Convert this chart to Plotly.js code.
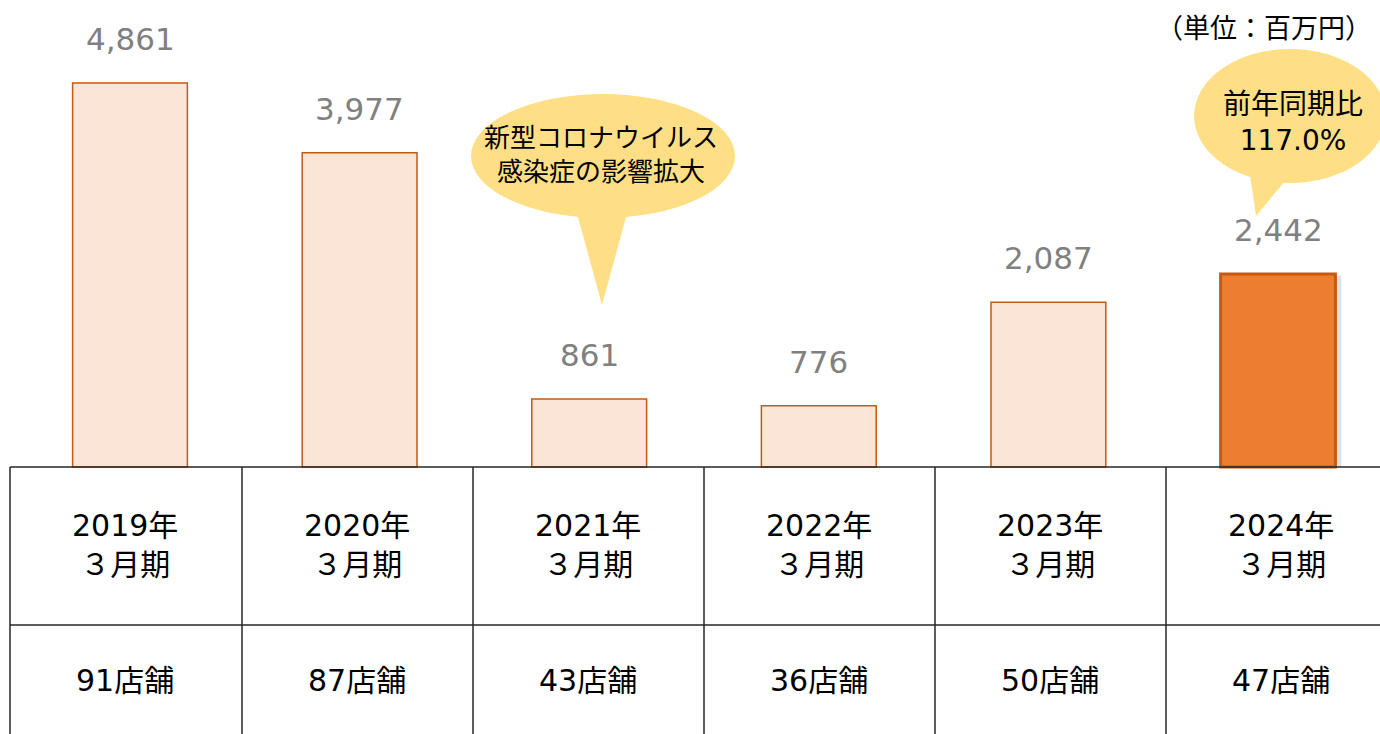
<!DOCTYPE html>
<html>
<head>
<meta charset="utf-8">
<script src="https://cdn.plot.ly/plotly-3.0.1.min.js"></script>
<style>html,body{margin:0;padding:0;background:#fff;}#chart{width:1380px;height:734px;}</style>
</head>
<body>
<div id="chart"></div>
<script>
// ---- data ----
const fiscalYears = ['2019', '2020', '2021', '2022', '2023', '2024'];
const sales = [4861, 3977, 861, 776, 2087, 2442];
const storeCounts = [91, 87, 43, 36, 50, 47];
const unitLabel = '（単位：百万円）';
const covidNote = '新型コロナウイルス<br>感染症の影響拡大';
const yoyNote = '前年同期比<br>117.0%';

// ---- layout helpers ----
const W = 1380, H = 734;
const FONT = 'DejaVu Sans, Verdana, Noto Sans CJK JP, sans-serif';
const px = x => x / W;
const py = y => 1 - y / H;

const categories = fiscalYears.map(y => y + '年3月期');
const last = sales.length - 1;

const trace = {
  type: 'bar',
  x: categories,
  y: sales,
  width: 0.5,
  marker: {
    color: sales.map((v, i) => i === last ? '#ED7D31' : '#FBE5D6'),
    line: {
      color: '#C55A11',
      width: sales.map((v, i) => i === last ? 3 : 1.5)
    }
  },
  hoverinfo: 'skip',
  showlegend: false
};

const annotations = [];
// value labels
sales.forEach((v, i) => {
  annotations.push({
    x: categories[i], y: v, xref: 'x', yref: 'y',
    text: v.toLocaleString('en-US'),
    showarrow: false, yanchor: 'middle', yshift: 44,
    font: {family: FONT, size: 31, color: '#808080'}
  });
});

// table
const colLeft = 10, colW = 231;
const tableTop = 467, rowMid = 625;
const shapes = [];
shapes.push({type: 'line', xref: 'paper', yref: 'paper', x0: px(colLeft), x1: 1, y0: py(tableTop), y1: py(tableTop), line: {color: '#262626', width: 1.5}});
shapes.push({type: 'line', xref: 'paper', yref: 'paper', x0: px(colLeft), x1: 1, y0: py(rowMid), y1: py(rowMid), line: {color: '#262626', width: 1.5}});
for (let i = 0; i < fiscalYears.length; i++) {
  const xl = colLeft + colW * i + (i > 0 ? 1 : 0);
  shapes.push({type: 'line', xref: 'paper', yref: 'paper', x0: px(xl), x1: px(xl), y0: py(tableTop), y1: 0, line: {color: '#262626', width: 1.5}});
  const cx = colLeft + colW * (i + 0.5);
  annotations.push({
    xref: 'paper', yref: 'paper', x: px(cx), y: py(545), xanchor: 'center', yanchor: 'middle',
    text: fiscalYears[i] + '年<br>３月期', showarrow: false, align: 'center',
    font: {family: FONT, size: 30, color: '#000000'}
  });
  annotations.push({
    xref: 'paper', yref: 'paper', x: px(cx), y: py(680), xanchor: 'center', yanchor: 'middle',
    text: storeCounts[i] + '店舗', showarrow: false,
    font: {family: FONT, size: 30, color: '#000000'}
  });
}

// subtle shadow for highlighted bar
shapes.push({type: 'rect', xref: 'x', yref: 'y', layer: 'below',
  x0: last - 0.25 + 0.012, x1: last + 0.25 + 0.025, y0: 0, y1: sales[last] - 20,
  fillcolor: 'rgba(0,0,0,0.12)', line: {width: 0}});

// callout bubbles
const BUB = '#FFDF85';
function bubble(cx, cy, rx, ry, b1, b2, tip) {
  shapes.push({type: 'circle', xref: 'paper', yref: 'paper', layer: 'above',
    x0: px(cx - rx), x1: px(cx + rx), y0: py(cy + ry), y1: py(cy - ry),
    fillcolor: BUB, line: {width: 0}});
  shapes.push({type: 'path', xref: 'paper', yref: 'paper', layer: 'above',
    path: `M ${px(b1[0])} ${py(b1[1])} L ${px(tip[0])} ${py(tip[1])} L ${px(b2[0])} ${py(b2[1])} Z`,
    fillcolor: BUB, line: {width: 0}});
}
bubble(603, 156, 132, 62, [576, 210], [628, 210], [602, 305]);
bubble(1290, 116, 96, 67, [1250, 175], [1290, 175], [1256, 216]);

annotations.push({xref: 'paper', yref: 'paper', x: px(601), y: py(155), xanchor: 'center', yanchor: 'middle',
  text: covidNote, showarrow: false, align: 'center', font: {family: FONT, size: 26, color: '#000000'}});
annotations.push({xref: 'paper', yref: 'paper', x: px(1293), y: py(122), xanchor: 'center', yanchor: 'middle',
  text: yoyNote, showarrow: false, align: 'center', font: {family: FONT, size: 28, color: '#000000'}});
annotations.push({xref: 'paper', yref: 'paper', x: px(1374), y: py(28), xanchor: 'right', yanchor: 'middle',
  text: unitLabel, showarrow: false, font: {family: FONT, size: 27, color: '#000000'}});

const scale = 384 / 4861; // px per unit
const layout = {
  width: W, height: H,
  margin: {l: 0, r: 0, t: 0, b: 0},
  paper_bgcolor: '#ffffff', plot_bgcolor: 'rgba(0,0,0,0)',
  xaxis: {range: [-130 / 229.6, (W - 130) / 229.6], showgrid: false, zeroline: false, showticklabels: false, showline: false, ticks: '', fixedrange: true},
  yaxis: {range: [-(H - tableTop) / scale, tableTop / scale], showgrid: false, zeroline: false, showticklabels: false, showline: false, ticks: '', fixedrange: true},
  shapes: shapes,
  annotations: annotations,
  bargap: 0.5,
  font: {family: FONT}
};

Plotly.newPlot('chart', [trace], layout, {displayModeBar: false, staticPlot: true});
</script>
</body>
</html>
